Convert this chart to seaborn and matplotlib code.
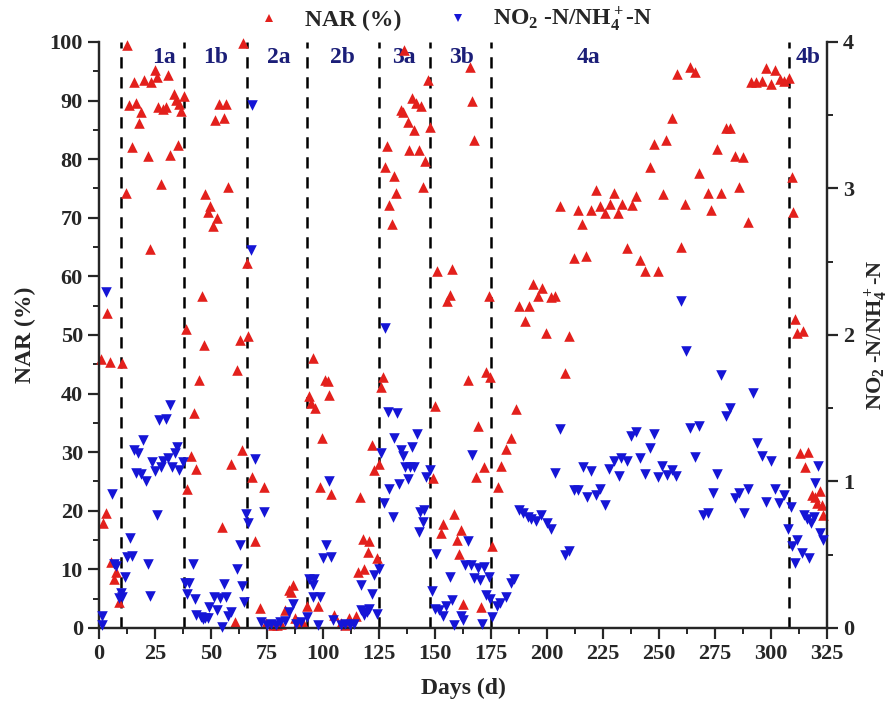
import numpy as np
import pandas as pd
import matplotlib
matplotlib.use("Agg")
import matplotlib.pyplot as plt
from matplotlib.lines import Line2D
from matplotlib.ticker import MultipleLocator
import seaborn as sns

# Nitrite accumulation ratio (%) by operating day
nar_days = [0.8, 1.8, 3.0, 3.7, 4.8, 5.2, 6.7, 7.4, 8.9, 10.4,
            11.9, 12.7, 13.4, 14.6, 15.6, 16.7, 17.9, 18.9, 20.1, 21.8, 22.7, 23.1, 25.0, 26.1, 26.5,
            27.9, 28.6, 29.8, 30.8, 31.6, 33.5, 34.6, 35.5, 35.8, 36.5, 38.0,
            38.7, 39.5, 41.0, 42.5, 43.5, 44.7, 45.9, 46.9, 47.4, 48.8, 49.5, 51.0, 51.9, 52.9,
            53.6, 54.8, 55.9, 56.9, 57.8, 58.9, 60.8, 61.8, 63.0, 63.8, 64.4, 66.0, 66.7,
            68.1, 69.7, 71.8, 73.8, 74.5, 77.5, 79.5, 81.2, 83.1, 84.9, 85.7, 86.4, 87.6, 89.0, 91.0,
            92.7, 93.6, 94.6, 95.7, 96.6, 97.6, 98.7, 99.6, 101.0, 102.1, 102.8, 103.6, 105.0,
            108.0, 110.0, 111.8, 114.7, 115.5, 116.7, 117.7, 118.5, 119.9, 120.7, 121.9, 123.0,
            124.0, 124.9,
            126.0, 127.0, 127.8, 128.4, 129.6, 130.8, 131.9, 132.6, 134.9, 135.9, 136.3, 137.8,
            138.6, 139.8, 140.8, 141.6, 142.7, 143.8, 144.5, 145.6, 146.8, 147.8,
            149.0, 149.8, 150.8, 152.7, 153.8, 155.3, 156.8, 157.7, 158.7, 159.8, 160.9, 161.7,
            162.7, 164.6, 165.7, 166.6, 167.6, 168.1, 169.1, 170.6, 171.7, 172.6, 174.0, 174.7,
            175.5,
            178.1, 179.6, 181.8, 184.0, 186.0, 187.7, 190.0, 191.9, 193.7, 196.0, 197.9, 199.7,
            201.9, 203.8, 205.6, 207.9, 209.8, 211.9, 213.8, 215.7, 217.6, 219.8, 221.7, 223.8,
            225.7, 228.0, 229.8, 231.7, 233.6, 235.7, 238.0, 239.9, 241.7, 243.6, 245.9, 247.7,
            249.6, 251.8, 253.3, 255.8, 258.1, 259.7, 261.5, 263.7, 266.0, 267.9, 271.9, 273.4,
            275.7, 277.6, 279.8, 281.9, 283.9, 285.7, 287.6, 289.8, 291.3, 293.5, 295.8, 297.7,
            299.8, 301.7, 304.0, 305.8, 308.1,
            309.2, 309.9, 310.7, 311.7, 312.9, 314.1, 315.2, 316.6, 318.1, 319.6, 320.4, 321.9,
            322.6, 323.4]
nar_values = [45.9, 17.9, 19.6, 53.7, 45.4, 11.3, 8.3, 9.6, 4.5, 45.3,
              74.2, 99.5, 89.2, 82.1, 93.2, 89.6, 86.1, 88.1, 93.5, 80.5, 64.6, 93.1, 95.2, 94.1, 88.9,
              75.8, 88.5, 88.9, 94.4, 80.7, 91.2, 90.1, 82.5, 89.5, 88.2, 90.8,
              51.1, 23.7, 29.4, 36.7, 27.1, 42.4, 56.7, 48.3, 74.1, 71.0, 72.0, 68.6, 86.7, 69.9,
              89.4, 17.3, 87.1, 89.4, 75.3, 27.9, 1.1, 44.1, 49.2, 30.3, 99.8, 62.3, 49.8,
              25.8, 14.8, 3.4, 24.0, 0.9, 0.5, 0.5, 0.6, 3.1, 6.5, 6.2, 7.3, 1.7, 1.0, 0.8,
              3.8, 39.6, 38.4, 46.0, 37.5, 3.8, 24.1, 32.5, 42.4, 42.2, 39.8, 22.9, 2.2,
              0.8, 0.5, 1.7, 2.0, 9.6, 22.4, 15.1, 10.0, 13.0, 14.9, 31.2, 27.0,
              11.9, 28.0,
              41.2, 42.9, 78.6, 82.3, 72.2, 68.9, 77.2, 74.2, 88.4, 88.1, 98.6, 86.4,
              81.6, 90.4, 85.0, 89.6, 81.5, 89.1, 75.3, 79.7, 93.5, 85.5,
              25.6, 37.9, 61.0, 16.2, 17.7, 55.8, 56.8, 61.2, 19.5, 15.0, 12.6, 16.7,
              4.1, 42.3, 95.7, 89.9, 83.3, 25.8, 34.4, 3.6, 27.4, 43.7, 56.7, 42.9,
              14.0,
              24.1, 27.6, 30.5, 32.5, 37.3, 54.9, 52.4, 54.9, 58.7, 56.7, 58.1, 50.3,
              56.4, 56.6, 72.0, 43.5, 49.8, 63.1, 71.4, 69.0, 63.5, 71.3, 74.7, 72.0,
              70.8, 72.4, 74.2, 70.9, 72.4, 64.8, 72.2, 73.7, 62.8, 61.0, 78.7, 82.6,
              61.0, 74.1, 83.2, 87.1, 94.5, 65.0, 72.4, 95.8, 94.8, 77.6, 74.2, 71.3,
              81.7, 74.3, 85.3, 85.4, 80.5, 75.2, 80.3, 69.3, 93.2, 93.2, 93.4, 95.5,
              92.9, 95.2, 93.6, 93.4, 93.8,
              76.9, 71.0, 52.7, 50.3, 29.8, 50.6, 27.5, 30.1, 22.7, 22.4, 21.3, 23.3,
              21.0, 19.3]

# NO2--N / NH4+-N ratio by operating day
ratio_days = [1.2, 1.5, 3.0, 5.7, 6.7, 7.5, 8.9, 9.7, 10.4,
              11.6, 12.7, 13.7, 14.6, 15.6, 16.4, 17.6, 18.6, 19.7, 20.9, 22.1, 22.7, 23.6, 25.0,
              26.1, 26.8, 27.6, 28.6, 29.8, 31.0, 31.6, 32.5, 34.0, 35.0, 35.8, 37.6,
              38.4, 39.5, 40.2, 42.0, 42.9, 43.5, 45.5, 46.5, 47.4, 48.5, 49.2, 51.4, 52.9, 54.0,
              55.0, 55.9, 56.6, 57.4, 58.9, 61.8, 62.9, 63.8, 64.8, 65.8,
              66.7, 67.8, 68.5, 69.7, 72.3, 73.8, 75.0, 77.0, 79.0, 81.0, 83.0, 84.9, 86.4, 88.0,
              90.0, 92.7,
              93.9, 95.4, 95.7, 96.1, 97.6, 98.7, 99.8, 101.3, 102.5, 103.6, 104.3, 108.0, 110.0,
              112.0, 114.0, 117.0, 117.0, 118.5, 119.5, 120.7, 121.9, 123.0, 124.0, 124.9,
              126.0, 127.2, 127.9, 128.9, 129.6, 131.1, 131.9, 132.9, 133.8, 134.9, 135.9, 136.8,
              137.8, 138.9, 139.8, 140.8, 141.8, 142.7, 143.4, 144.8, 145.3, 146.0, 147.8,
              148.7, 149.8, 150.5, 152.0, 153.8, 154.7, 156.8, 157.7, 158.7, 161.7, 162.4, 163.6,
              164.6, 165.9, 166.6, 167.6, 169.1, 170.2, 171.1, 172.1, 172.6, 174.0, 174.7,
              175.5, 177.6, 179.1, 181.5, 184.0, 185.5, 187.7, 189.5, 191.5, 193.0, 195.2, 197.5,
              200.0, 201.9, 203.8, 205.6, 207.9, 209.8, 211.9, 213.8, 216.0, 217.9, 219.8, 221.7,
              223.8, 225.7, 227.7, 229.8, 232.2, 233.2, 235.7, 237.7, 239.6, 241.7, 243.6, 245.9,
              247.7, 249.6, 251.5, 253.6, 256.0, 257.8, 260.0, 262.0, 264.0, 266.0, 267.9, 269.7,
              271.9, 273.9, 276.0, 277.5, 279.8, 281.6, 283.9, 285.8, 287.9, 289.8, 291.8, 293.9,
              295.8, 297.7, 299.8, 301.7, 303.7, 305.8, 307.7,
              308.8, 309.6, 310.7, 311.7, 313.7, 314.7, 315.9, 317.1, 317.7, 319.2, 319.6, 321.1,
              321.9, 323.1]
ratio_values = [0.02, 0.082, 2.29, 0.915, 0.437, 0.423, 0.203, 0.237, 0.214,
                0.346, 0.483, 0.612, 0.491, 1.215, 1.056, 1.197, 1.051, 1.283, 1.006, 0.437, 0.218, 1.135, 1.074,
                0.771, 1.42, 1.101, 1.142, 1.425, 1.158, 1.522, 1.097, 1.197, 1.233, 1.079, 1.135,
                0.305, 0.232, 0.309, 0.437, 0.196, 0.089, 0.077, 0.06, 0.066, 0.07, 0.145, 0.214, 0.123, 0.203,
                0.01, 0.30, 0.214, 0.082, 0.111, 0.40, 0.567, 0.287, 0.18, 0.778,
                0.719, 2.58, 3.57, 1.151, 0.043, 0.794, 0.02, 0.03, 0.02, 0.04, 0.05, 0.111, 0.164, 0.03,
                0.04, 0.073,
                0.332, 0.293, 0.214, 0.332, 0.02, 0.214, 0.476, 0.567, 1.006, 0.487, 0.055, 0.02, 0.03,
                0.02, 0.03, 0.293, 0.123, 0.089, 0.111, 0.128, 0.232, 0.362, 0.096, 0.40,
                1.197, 0.855, 2.046, 1.477, 0.947, 0.76, 1.295, 1.47, 0.983, 1.215, 1.174, 1.101,
                1.015, 1.101, 1.238, 1.101, 1.324, 0.657, 0.794, 0.726, 0.805, 1.033, 1.079,
                0.255, 0.128, 0.505, 0.123, 0.082, 0.15, 0.346, 0.191, 0.02, 0.082, 0.055, 0.43,
                0.596, 0.43, 1.181, 0.339, 0.407, 0.328, 0.027, 0.414, 0.225, 0.346, 0.196,
                0.077, 0.15, 0.173, 0.21, 0.309, 0.332, 0.805, 0.783, 0.76, 0.742, 0.732, 0.771,
                0.715, 0.674, 1.06, 1.356, 0.498, 0.528, 0.942, 0.942, 1.097, 0.896, 1.074, 0.908,
                0.947, 0.84, 1.083, 1.142, 1.038, 1.158, 1.142, 1.31, 1.34, 1.158, 1.051, 1.227,
                1.324, 1.033, 1.106, 1.044, 1.079, 1.038, 2.234, 1.893, 1.363, 1.165, 1.379, 0.771,
                0.783, 0.924, 1.051, 1.727, 1.447, 1.5, 0.885, 0.924, 0.787, 0.947, 1.602, 1.265,
                1.174, 0.862, 1.142, 0.947, 0.855, 0.908, 0.674,
                0.828, 0.56, 0.446, 0.601, 0.514, 0.771, 0.742, 0.476, 0.719, 0.756, 0.988, 1.106,
                0.646, 0.601]

# Operating phases: boundaries (days) and labels
phase_bounds = [10, 38, 66, 93, 125, 148, 175, 308]
phase_labels = ["1a", "1b", "2a", "2b", "3a", "3b", "4a", "4b"]
phase_label_days = [29, 52, 80.5, 108.5, 136, 162, 218.5, 316.5]

x_ticks = list(range(0, 326, 25))

RED = "#E3201C"
BLUE = "#1515D6"
NAVY = "#1B1E78"

sns.set_style("ticks")
plt.rcParams["font.family"] = ["Liberation Serif", "DejaVu Serif"]
plt.rcParams["font.weight"] = "bold"
plt.rcParams["mathtext.fontset"] = "custom"
plt.rcParams["mathtext.rm"] = "Liberation Serif:bold"
plt.rcParams["mathtext.it"] = "Liberation Serif:bold"
plt.rcParams["mathtext.bf"] = "Liberation Serif:bold"
plt.rcParams["axes.linewidth"] = 1.6

nar_df = pd.DataFrame({"Days (d)": nar_days, "NAR (%)": nar_values})
ratio_df = pd.DataFrame({"Days (d)": ratio_days, "ratio": ratio_values})

fig = plt.figure(figsize=(8.9, 7.2), dpi=100)
ax = fig.add_axes([0.1112, 0.1278, 0.8180, 0.8139])
ax2 = ax.twinx()

sns.scatterplot(data=nar_df, x="Days (d)", y="NAR (%)", marker="^", color=RED,
                s=58, linewidth=0, ax=ax, legend=False, clip_on=False, zorder=3)
sns.scatterplot(data=ratio_df, x="Days (d)", y="ratio", marker="v", color=BLUE,
                s=58, linewidth=0, ax=ax2, legend=False, clip_on=False, zorder=3)

for b in phase_bounds:
    ax.axvline(b, ymin=0, ymax=1, color="black", lw=1.8, ls=(0, (4.5, 3.5)), zorder=1)
for d, lab in zip(phase_label_days, phase_labels):
    ax.text(d, 97.3, lab, color=NAVY, fontsize=17, fontweight="bold",
            ha="center", va="center", zorder=2)

ax.set_xlim(0, 325)
ax.set_ylim(0, 100)
ax2.set_ylim(0, 4)
ax.set_xticks(x_ticks)
ax.xaxis.set_minor_locator(MultipleLocator(12.5))
ax.yaxis.set_major_locator(MultipleLocator(10))
ax.yaxis.set_minor_locator(MultipleLocator(5))
ax2.yaxis.set_major_locator(MultipleLocator(1))
ax2.yaxis.set_minor_locator(MultipleLocator(0.5))

for a in (ax, ax2):
    a.spines["top"].set_visible(False)
    a.tick_params(which="major", direction="out", length=8, width=1.6, labelsize=16)
    a.tick_params(which="minor", direction="out", length=4.5, width=1.4)
    for lbl in a.get_xticklabels() + a.get_yticklabels():
        lbl.set_fontweight("bold")

ax.set_xlabel("Days (d)", fontsize=17, fontweight="bold", labelpad=10)
ax.set_ylabel("NAR (%)", fontsize=17, fontweight="bold", labelpad=10)
ax2.set_ylabel("NO$_2$ -N/NH$_4^+$-N", fontsize=16, fontweight="bold",
               rotation=90, labelpad=6)

handles = [
    Line2D([], [], marker="^", color=RED, ls="none", markersize=6, markeredgewidth=0),
    Line2D([], [], marker="v", color=BLUE, ls="none", markersize=6, markeredgewidth=0),
]
fig.legend(handles, ["NAR (%)", "NO$_2$ -N/NH$_4^+$-N"], loc="center",
           bbox_to_anchor=(0.51, 0.972), ncol=2, frameon=False,
           prop={"family": "Liberation Serif", "weight": "bold", "size": 17},
           handletextpad=0.9, columnspacing=1.8, handlelength=1.2)

fig.savefig("out.png", dpi=100)
